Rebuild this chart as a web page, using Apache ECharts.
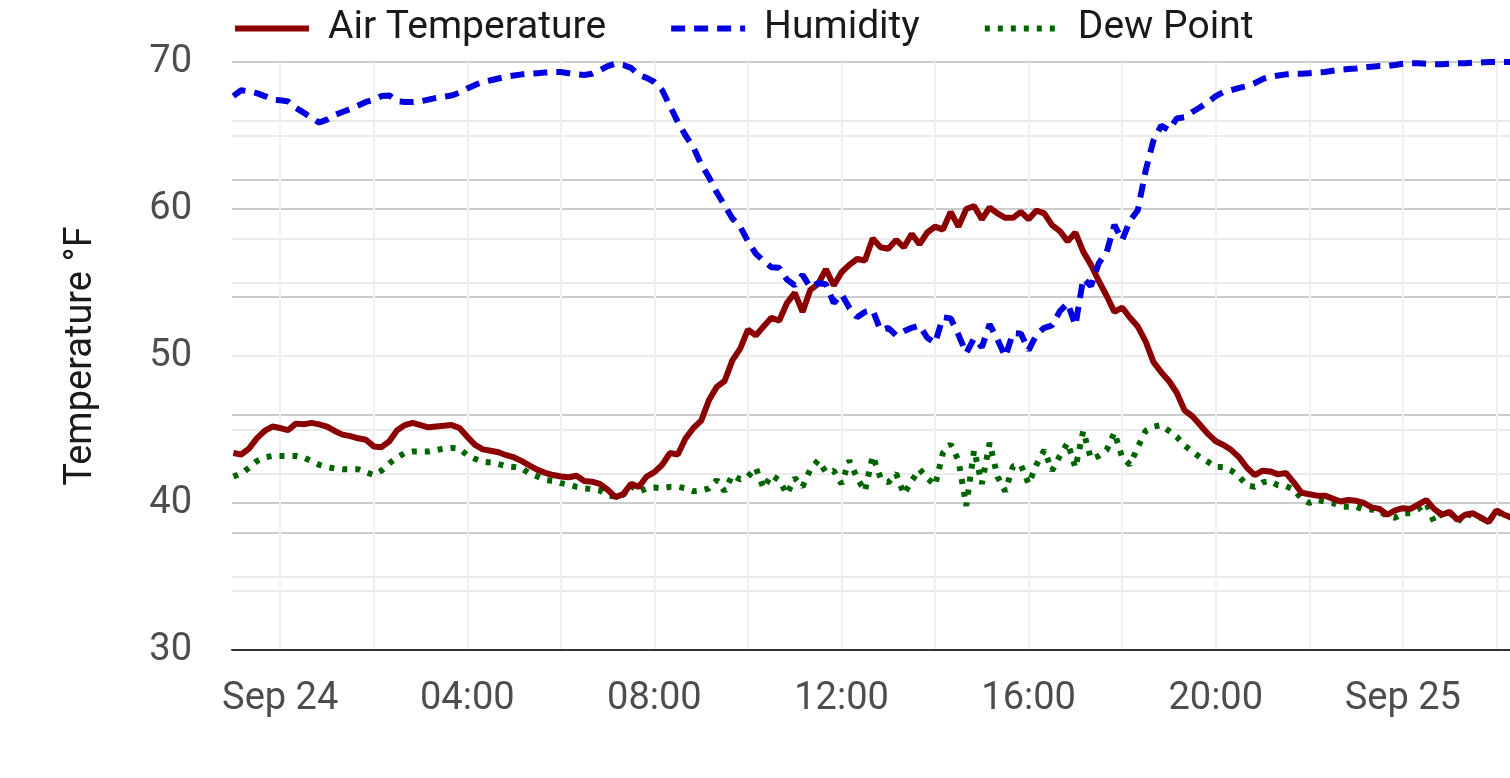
<!DOCTYPE html>
<html>
<head>
<meta charset="utf-8">
<script src="https://cdn.jsdelivr.net/npm/echarts@6/dist/echarts.min.js"></script>
<style>
html,body{margin:0;padding:0;background:#ffffff;}
#chart{width:1510px;height:778px;}
</style>
</head>
<body>
<div id="chart"></div>
<script>
// Time in hours relative to Sep 24 00:00; one reading every 10 minutes starting 23:00 Sep 23
const startHour = -1;
const stepHour = 1 / 6;

const airTemp = [
  43.4, 43.3, 43.7, 44.4, 44.9, 45.2, 45.1, 44.95, 45.4, 45.35,
  45.45, 45.35, 45.2, 44.9, 44.65, 44.55, 44.4, 44.3, 43.85, 43.8,
  44.2, 44.95, 45.3, 45.45, 45.3, 45.15, 45.2, 45.25, 45.3, 45.1,
  44.5, 43.95, 43.65, 43.55, 43.45, 43.25, 43.1, 42.85, 42.55, 42.25,
  42.05, 41.9, 41.8, 41.75, 41.85, 41.5, 41.45, 41.3, 40.9, 40.4,
  40.6, 41.3, 41.1, 41.8, 42.1, 42.6, 43.4, 43.3, 44.4, 45.1,
  45.6, 47.0, 47.9, 48.3, 49.7, 50.5, 51.8, 51.4, 52.0, 52.6,
  52.4, 53.6, 54.3, 53.0, 54.5, 54.9, 55.9, 54.8, 55.7, 56.2,
  56.6, 56.5, 58.0, 57.4, 57.3, 57.9, 57.4, 58.3, 57.6, 58.4,
  58.8, 58.6, 59.8, 58.8, 60.0, 60.2, 59.3, 60.1, 59.7, 59.4,
  59.4, 59.8, 59.3, 59.9, 59.7, 58.9, 58.5, 57.8, 58.4, 57.1,
  56.2, 55.1, 54.1, 53.0, 53.3, 52.6, 52.0, 51.0, 49.6, 48.9,
  48.3, 47.5, 46.3, 45.9, 45.3, 44.7, 44.2, 43.95, 43.6, 43.1,
  42.4, 41.9, 42.2, 42.15, 41.95, 42.05, 41.4, 40.7, 40.6, 40.5,
  40.5, 40.3, 40.1, 40.2, 40.15, 40.0, 39.7, 39.6, 39.2, 39.5,
  39.65, 39.6, 39.9, 40.2, 39.6, 39.2, 39.4, 38.85, 39.2, 39.3,
  39.0, 38.7, 39.5, 39.2, 39.0
];

const humidity = [
  94.2, 95.2, 95.0, 94.7, 94.2, 93.6, 93.5, 93.3, 92.2, 91.4,
  90.5, 89.7, 90.2, 91.0, 91.5, 92.0, 92.6, 93.2, 93.6, 94.2,
  94.3, 93.3, 93.2, 93.2, 93.3, 93.6, 93.9, 94.1, 94.3, 94.8,
  95.5, 96.1, 96.6, 96.9, 97.2, 97.5, 97.7, 97.9, 98.0, 98.1,
  98.2, 98.3, 98.3, 98.1, 97.9, 97.8, 98.0, 98.6, 99.3, 99.7,
  99.5, 99.0, 97.8, 97.3, 96.6, 95.2, 92.5, 89.8, 87.5, 85.5,
  82.6, 80.4, 77.8, 75.6, 73.4, 72.0, 69.5, 67.4, 66.2, 65.1,
  65.0, 63.0, 62.0, 63.8, 61.7, 62.4, 62.2, 59.0, 60.5, 58.2,
  56.6, 57.5, 57.8, 54.4, 54.8, 53.5, 54.2, 54.8, 55.2, 53.1,
  52.2, 56.6, 56.4, 53.6, 50.5, 53.0, 51.5, 55.4, 52.8, 49.9,
  53.9, 53.8, 51.0, 53.6, 54.8, 55.2, 57.6, 59.0, 55.2, 63.2,
  61.9, 65.8, 67.6, 72.3, 69.7, 73.0, 74.8, 81.5, 86.6, 89.2,
  88.4, 90.4, 90.6, 91.5, 92.3, 93.2, 94.2, 94.9, 95.2, 95.6,
  95.9, 96.4, 97.1, 97.5, 97.7, 97.9, 98.0, 98.0, 98.1, 98.2,
  98.3, 98.5, 98.7, 98.8, 98.9, 99.1, 99.2, 99.3, 99.3, 99.5,
  99.7, 99.8, 99.8, 99.7, 99.6, 99.6, 99.7, 99.8, 99.8, 99.9,
  99.9, 100, 100, 100, 100
];

const dewPoint = [
  41.8, 42.0, 42.4, 42.85, 43.1, 43.2, 43.2, 43.2, 43.2, 43.1,
  42.85, 42.6, 42.45, 42.35, 42.3, 42.3, 42.3, 42.1, 41.9, 42.2,
  42.7, 43.1, 43.4, 43.5, 43.5, 43.5, 43.6, 43.7, 43.75, 43.7,
  43.25, 43.0, 42.8, 42.75, 42.65, 42.5, 42.45, 42.35, 42.0, 41.8,
  41.56, 41.5, 41.35, 41.25, 41.1, 41.0, 40.95, 40.85, 40.5, 40.45,
  40.55, 41.2, 40.75, 41.0, 41.05, 41.0, 41.1, 41.1, 41.0, 40.8,
  40.85, 41.0, 41.56, 40.8, 41.9, 41.6, 41.8, 42.4, 41.0, 41.9,
  41.56, 40.6, 41.7, 41.1, 42.3, 42.9, 42.1, 42.2, 41.3, 42.9,
  41.7, 40.8, 43.2, 41.7, 41.4, 42.0, 40.6, 41.5, 42.3, 41.7,
  41.2, 43.4, 44.0, 42.9, 39.8, 43.6, 41.3, 44.1, 41.8, 40.8,
  42.5, 42.6, 41.3, 42.6, 43.6, 42.2, 43.2, 44.1, 42.4, 44.9,
  43.0, 43.2, 43.6, 44.8, 43.1, 42.6, 43.8, 44.9, 45.2, 45.3,
  44.9, 44.5, 43.9, 43.5, 43.1, 42.8, 42.45, 42.45, 42.2, 41.8,
  41.2, 41.1, 41.4, 41.5, 41.2, 41.15, 40.9, 40.3, 40.0, 40.2,
  40.1, 40.0, 39.75, 39.75, 39.75, 39.55, 39.55, 39.45, 39.1, 39.0,
  39.3, 39.3, 39.6, 40.0, 38.7, 39.3, 39.4, 38.7, 39.3, 39.1,
  39.0, 38.7, 39.5, 39.1, 39.0
];

// Axis ticks (hours relative to Sep 24 00:00)
const xGridHours = [0, 2, 4, 6, 8, 10, 12, 14, 16, 18, 20, 22, 24, 26];
const xLabelHours = [0, 4, 8, 12, 16, 20, 24];
const xMin = -1.03;
const xMax = 26.29;

function toPairs(arr) {
  return arr.map(function (v, i) { return [startHour + i * stepHour, v]; });
}

function pad2(n) { return (n < 10 ? '0' : '') + n; }
function hourLabel(v) {
  var h = Math.round(v);
  if (h === 0) return 'Sep 24';
  if (h === 24) return 'Sep 25';
  return pad2(((h % 24) + 24) % 24) + ':00';
}

const FONT = 'Roboto, "Noto Sans", sans-serif';
const chart = echarts.init(document.getElementById('chart'), null, { renderer: 'canvas' });

chart.setOption({
  animation: false,
  backgroundColor: '#ffffff',
  legend: {
    top: 9,
    left: 232,
    padding: 0,
    itemWidth: 74,
    itemHeight: 14,
    itemGap: 62,
    itemStyle: { color: 'transparent', borderWidth: 0, opacity: 0 },
    lineStyle: { width: 6 },
    textStyle: { fontFamily: FONT, fontSize: 39, color: '#1a1a1a', padding: [0, 0, 0, 14] },
    data: ['Air Temperature', 'Humidity', 'Dew Point']
  },
  grid: { left: 232, right: 0, top: 62, bottom: 128, containLabel: false },
  xAxis: {
    type: 'value',
    min: xMin,
    max: xMax,
    axisLine: { show: true, lineStyle: { color: '#333333', width: 2 } },
    axisTick: { show: false, customValues: xGridHours },
    axisLabel: {
      customValues: xLabelHours,
      formatter: hourLabel,
      fontFamily: FONT,
      fontSize: 38,
      color: '#4d4d4d',
      margin: 30
    },
    splitLine: { show: true, lineStyle: { color: '#f0f0f0', width: 2 } }
  },
  yAxis: [
    {
      type: 'value',
      min: 30,
      max: 70,
      interval: 10,
      position: 'left',
      name: 'Temperature °F',
      nameLocation: 'middle',
      nameGap: 132,
      nameTextStyle: { fontFamily: FONT, fontSize: 38, color: '#1a1a1a' },
      axisLine: { show: false },
      axisTick: { show: false },
      axisLabel: { fontFamily: FONT, fontSize: 38, color: '#4d4d4d', margin: 40 },
      splitLine: { show: true, lineStyle: { color: '#cccccc', width: 2 } },
      minorTick: { show: false, splitNumber: 2 },
      minorSplitLine: { show: true, lineStyle: { color: '#ebebeb', width: 2 } }
    },
    {
      type: 'value',
      min: 0,
      max: 100,
      interval: 20,
      position: 'right',
      axisLine: { show: false },
      axisTick: { show: false },
      axisLabel: { show: false },
      splitLine: { show: true, lineStyle: { color: '#cccccc', width: 2 } },
      minorTick: { show: false, splitNumber: 2 },
      minorSplitLine: { show: true, lineStyle: { color: '#ebebeb', width: 2 } }
    }
  ],
  series: [
    {
      name: 'Air Temperature',
      type: 'line',
      yAxisIndex: 0,
      data: toPairs(airTemp),
      showSymbol: false,
      symbol: 'none',
      color: '#8b0000',
      lineStyle: { color: '#8b0000', width: 6 },
      z: 3
    },
    {
      name: 'Humidity',
      type: 'line',
      yAxisIndex: 1,
      data: toPairs(humidity),
      showSymbol: false,
      symbol: 'none',
      color: '#0000e0',
      lineStyle: { color: '#0000e0', width: 6, type: [14, 9], cap: 'butt' },
      z: 4
    },
    {
      name: 'Dew Point',
      type: 'line',
      yAxisIndex: 0,
      data: toPairs(dewPoint),
      showSymbol: false,
      symbol: 'none',
      color: '#006400',
      lineStyle: { color: '#006400', width: 6, type: [5, 8], cap: 'butt' },
      z: 2
    }
  ]
});
</script>
</body>
</html>
